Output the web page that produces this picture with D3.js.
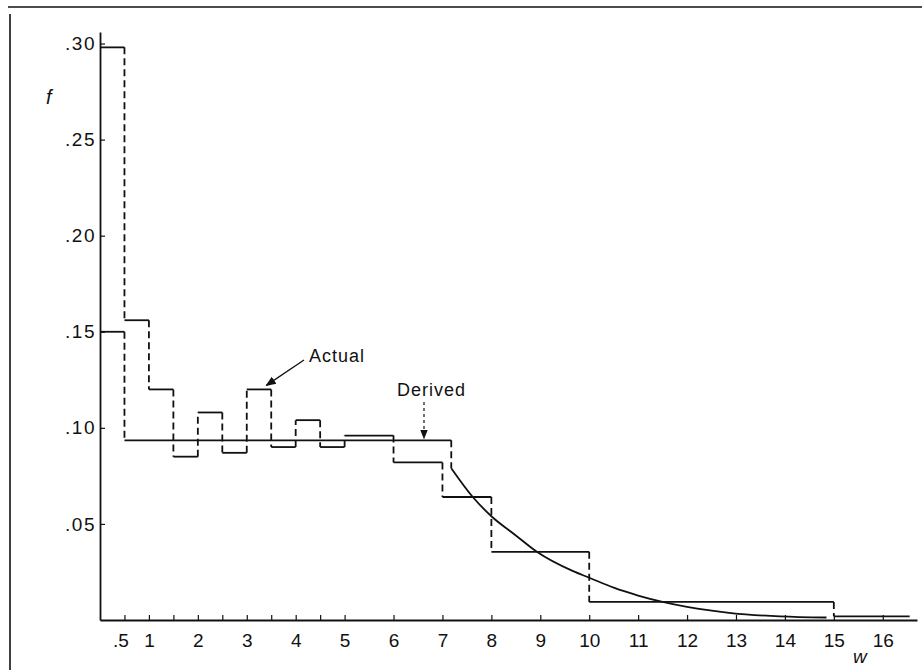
<!DOCTYPE html>
<html>

<head>
  <meta charset="utf-8">
  <script src="https://d3js.org/d3.v7.min.js"></script>
  <style>
    body { margin: 0; background: #fff; }
    text { font-family: "Liberation Sans", Arial, sans-serif; fill: #111; }
  </style>
</head>

<body>
  <div id="my_dataviz"></div>
  <script>
    // bin edges and heights of the "Actual" histogram
    var actualEdges = [0, 0.5, 1, 1.5, 2, 2.5, 3, 3.5, 4, 4.5, 5, 6, 7, 8, 10, 15, 16.55];
    var actualValues = [0.298, 0.156, 0.120, 0.085, 0.108, 0.087, 0.120, 0.090, 0.104, 0.090, 0.096, 0.082, 0.064, 0.0355, 0.0094, 0.0019];

    // "Derived" step part, then its smooth tail
    var derivedEdges = [0, 0.5, 7.18];
    var derivedValues = [0.150, 0.0935];
    var tailW = [7.18, 7.62, 8, 8.5, 8.93, 9.67, 10, 10.5, 11, 11.5, 12, 12.9, 13.9, 14.85];
    var tailF = [0.079, 0.064, 0.054, 0.044, 0.0355, 0.0254, 0.022, 0.0168, 0.0127, 0.0094, 0.0068, 0.0036, 0.0019, 0.0013];

    var xTicks = [0.5, 1, 1.5, 2, 2.5, 3, 3.5, 4, 4.5, 5, 6, 7, 8, 9, 10, 11, 12, 13, 14, 15, 16];
    var yTicks = [0.05, 0.10, 0.15, 0.20, 0.25, 0.30];

    var width = 922, height = 670;
    var ink = "#111";

    var svg = d3.select("#my_dataviz")
      .append("svg")
      .attr("width", width)
      .attr("height", height);

    // frame of the scanned page
    svg.append("line").attr("x1", 8).attr("x2", width).attr("y1", 7).attr("y2", 7)
      .attr("stroke", ink).attr("stroke-width", 1.6);
    svg.append("line").attr("x1", 10).attr("x2", 10).attr("y1", 14).attr("y2", height)
      .attr("stroke", ink).attr("stroke-width", 1.6);

    var x = d3.scaleLinear().domain([0, 16.7]).range([100, 917]);
    var y = d3.scaleLinear().domain([0, 0.306]).range([620, 32]);

    // X axis
    var xAxis = svg.append("g")
      .attr("transform", "translate(0," + y(0) + ")")
      .call(d3.axisBottom(x)
        .tickValues(xTicks)
        .tickSizeInner(-5)
        .tickSizeOuter(0)
        .tickPadding(14)
        .tickFormat(function (d) {
          if (d === 0.5) return ".5";
          return Number.isInteger(d) ? d : "";
        }));
    xAxis.select(".domain").attr("stroke", ink).attr("stroke-width", 1.8);
    xAxis.selectAll(".tick line").attr("stroke", ink).attr("stroke-width", 1.2);
    xAxis.selectAll("text").attr("font-size", 19).attr("fill", ink)
      .attr("dx", function (d) { return d === 0.5 ? -4 : 0; });

    // Y axis
    var yAxis = svg.append("g")
      .attr("transform", "translate(" + x(0) + ",0)")
      .call(d3.axisLeft(y)
        .tickValues(yTicks)
        .tickSizeInner(-5)
        .tickSizeOuter(0)
        .tickPadding(4)
        .tickFormat(function (d) { return d3.format(".2f")(d).replace(/^0/, ""); }));
    yAxis.select(".domain").attr("stroke", ink).attr("stroke-width", 1.8);
    yAxis.selectAll(".tick line").attr("stroke", ink).attr("stroke-width", 1.2);
    yAxis.selectAll("text").attr("font-size", 19).attr("fill", ink)
      .attr("letter-spacing", 1.5);

    // axis letters
    svg.append("text").attr("x", 46).attr("y", 104).attr("font-size", 20)
      .attr("font-style", "italic").text("f");
    svg.append("text").attr("x", 853).attr("y", 663).attr("font-size", 19)
      .attr("font-style", "italic").text("w");

    // draw a step histogram: solid tops, dashed risers
    function drawSteps(edges, values) {
      var bins = values.map(function (v, i) { return { x0: edges[i], x1: edges[i + 1], v: v }; });
      svg.selectAll(null)
        .data(bins)
        .enter()
        .append("line")
        .attr("x1", function (d) { return x(d.x0); })
        .attr("x2", function (d) { return x(d.x1); })
        .attr("y1", function (d) { return y(d.v); })
        .attr("y2", function (d) { return y(d.v); })
        .attr("stroke", ink)
        .attr("stroke-width", 1.8);
      var risers = bins.slice(1).map(function (d, i) { return { w: d.x0, a: bins[i].v, b: d.v }; });
      svg.selectAll(null)
        .data(risers)
        .enter()
        .append("line")
        .attr("x1", function (d) { return x(d.w); })
        .attr("x2", function (d) { return x(d.w); })
        .attr("y1", function (d) { return y(d.a); })
        .attr("y2", function (d) { return y(d.b); })
        .attr("stroke", ink)
        .attr("stroke-width", 1.8)
        .attr("stroke-dasharray", "7,4");
    }

    drawSteps(actualEdges, actualValues);
    drawSteps(derivedEdges, derivedValues);

    // derived drop into the tail
    svg.append("line")
      .attr("x1", x(tailW[0])).attr("x2", x(tailW[0]))
      .attr("y1", y(derivedValues[derivedValues.length - 1])).attr("y2", y(tailF[0]))
      .attr("stroke", ink).attr("stroke-width", 1.8).attr("stroke-dasharray", "7,4");

    // derived smooth tail
    svg.append("path")
      .datum(tailW.map(function (w, i) { return [w, tailF[i]]; }))
      .attr("fill", "none")
      .attr("stroke", ink)
      .attr("stroke-width", 1.8)
      .attr("d", d3.line()
        .x(function (d) { return x(d[0]); })
        .y(function (d) { return y(d[1]); })
        .curve(d3.curveMonotoneX));

    // annotations
    svg.append("defs").append("marker")
      .attr("id", "arrow")
      .attr("viewBox", "0 0 10 10")
      .attr("refX", 9).attr("refY", 5)
      .attr("markerWidth", 8).attr("markerHeight", 8)
      .attr("orient", "auto")
      .append("path").attr("d", "M0,1 L10,5 L0,9 z").attr("fill", ink);

    svg.append("text").attr("x", 309).attr("y", 362).attr("font-size", 18)
      .attr("letter-spacing", 1).text("Actual");
    svg.append("line")
      .attr("x1", 304).attr("y1", 360)
      .attr("x2", x(3.4)).attr("y2", y(0.120) - 4)
      .attr("stroke", ink).attr("stroke-width", 1.3)
      .attr("marker-end", "url(#arrow)");

    svg.append("text").attr("x", 397).attr("y", 396).attr("font-size", 18)
      .attr("letter-spacing", 1).text("Derived");
    svg.append("line")
      .attr("x1", 424).attr("y1", 402)
      .attr("x2", 424).attr("y2", y(0.0935) - 2)
      .attr("stroke", ink).attr("stroke-width", 1.2)
      .attr("stroke-dasharray", "3,3")
      .attr("marker-end", "url(#arrow)");
  </script>
</body>

</html>
